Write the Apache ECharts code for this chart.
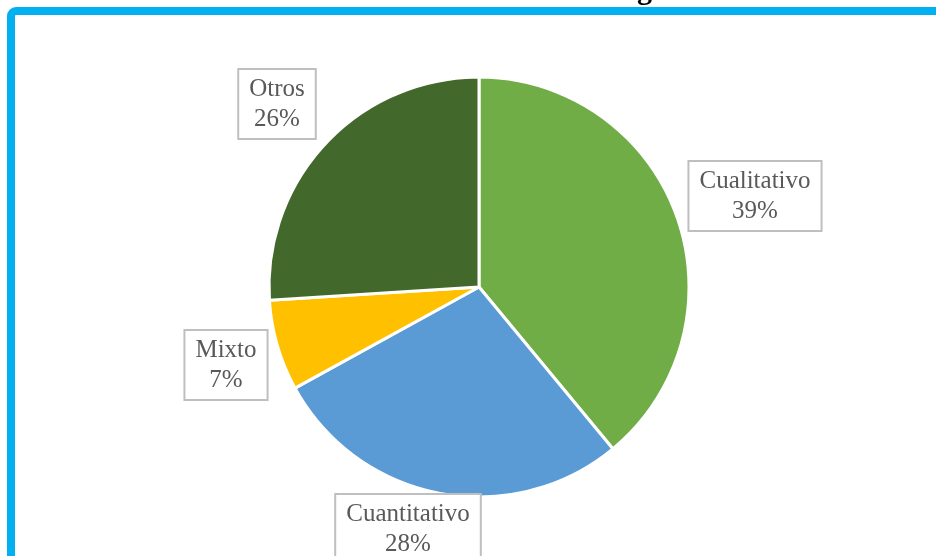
<!DOCTYPE html>
<html>
<head>
<meta charset="utf-8">
<script src="https://cdn.jsdelivr.net/npm/echarts@6/dist/echarts.min.js"></script>
<style>
  html, body { margin: 0; padding: 0; background: #fff; }
  #chart { width: 936px; height: 556px; }
</style>
</head>
<body>
<div id="chart"></div>
<script>
// datos (porcentajes)
const categories = ['Cualitativo', 'Cuantitativo', 'Mixto', 'Otros']
const values = [39, 28, 7, 26]
const colors = ['#70AD47', '#5B9BD5', '#FFC000', '#43682B']
const titleText = 'Gráfico N° 1: Métodos de Investigación'

const chart = echarts.init(document.getElementById('chart'))

// centro de cada caja de etiqueta
const labelPos = [[755, 196], [408, 529], [226, 365], [277, 104]]

chart.setOption({
  animation: false,
  title: {
    text: titleText,
    left: 'center',
    top: -29,
    textStyle: { fontFamily: 'Liberation Serif', fontWeight: 'bold', fontSize: 30, color: '#000' }
  },
  graphic: [{
    type: 'rect',
    shape: { x: 11, y: 11, width: 1000, height: 700, r: 5 },
    style: { fill: 'none', stroke: '#00B0F0', lineWidth: 8 },
    z: 10
  }],
  series: [{
    type: 'pie',
    center: [479, 287],
    radius: 210,
    startAngle: 90,
    clockwise: true,
    avoidLabelOverlap: false,
    itemStyle: { borderColor: '#fff', borderWidth: 3 },
    label: {
      show: true,
      position: 'outside',
      distanceToLabelLine: 0,
      formatter: (p) => `${p.name}\n${p.value}%`,
      fontFamily: 'Liberation Serif',
      fontSize: 25,
      lineHeight: 30,
      color: '#595959',
      backgroundColor: '#fff',
      borderColor: '#BFBFBF',
      borderWidth: 2,
      padding: [4, 10, 4, 10]
    },
    labelLine: { show: false, length: 0, length2: 0 },
    labelLayout: (p) => ({
      x: labelPos[p.dataIndex][0],
      y: labelPos[p.dataIndex][1],
      align: 'center',
      verticalAlign: 'middle'
    }),
    emphasis: { disabled: true },
    data: categories.map((c, i) => ({ name: c, value: values[i], itemStyle: { color: colors[i] } }))
  }]
})
</script>
</body>
</html>
